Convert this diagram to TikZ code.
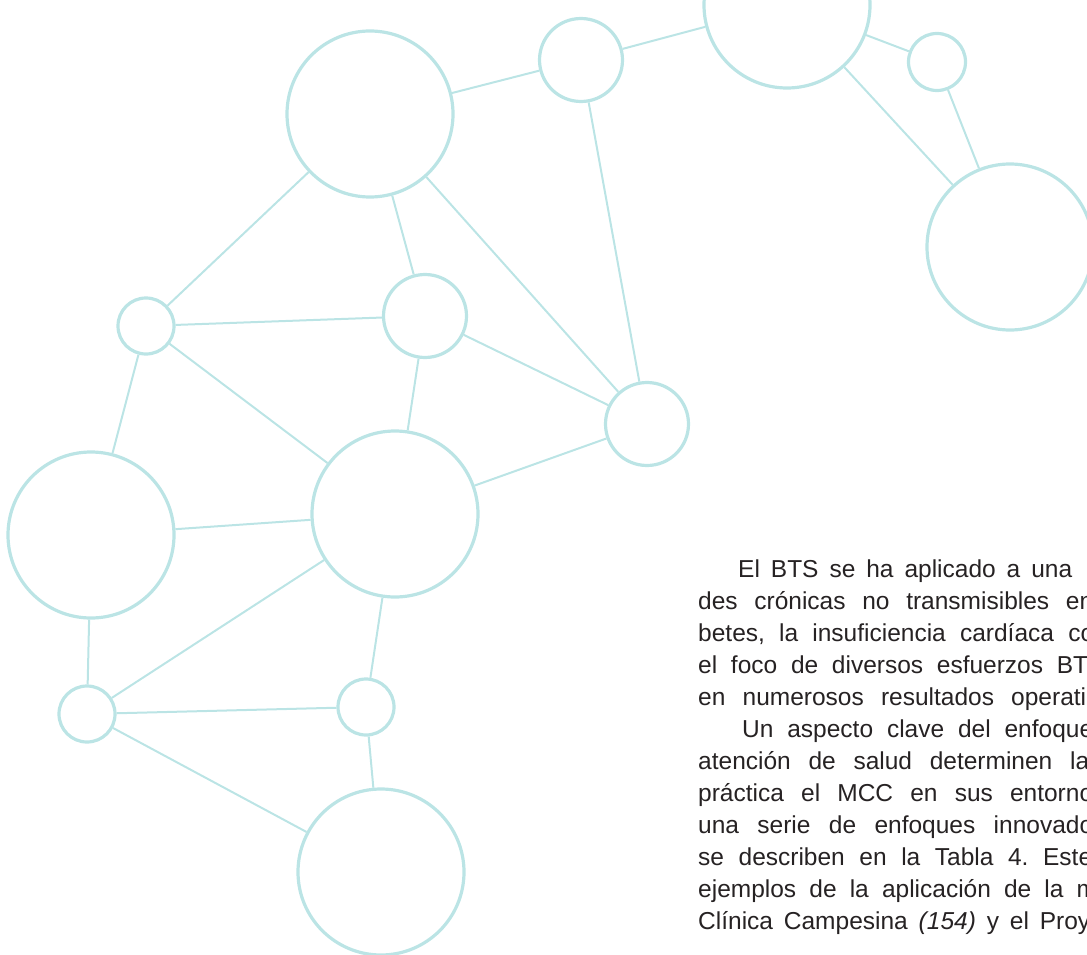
\documentclass[tikz,border=0pt]{standalone}
\usepackage{fontspec}
\setmainfont{Liberation Sans}
\usepackage{tikz}
\definecolor{NetTeal}{RGB}{187,228,229}
\definecolor{BodyGray}{RGB}{38,34,35}
\frenchspacing
\begin{document}
\begin{tikzpicture}[x=1pt, y=-1pt,
    hub/.style={circle, draw=NetTeal, line width=3.2pt, inner sep=0pt},
    link/.style={draw=NetTeal, line width=2pt},
    txtline/.style={anchor=base west, inner sep=0pt, text=BodyGray,
      font=\fontsize{24.5}{32}\selectfont}]
    \useasboundingbox (0,0) rectangle (1087,955);
    \clip (0,0) rectangle (1087,955);

    % network of circles
    \node[hub, minimum size=166] (c1) at (370,114) {};
    \node[hub, minimum size=83]  (c2) at (581,60) {};
    \node[hub, minimum size=166] (c3) at (787,5) {};
    \node[hub, minimum size=57]  (c4) at (937,62) {};
    \node[hub, minimum size=166] (c5) at (1010,247) {};
    \node[hub, minimum size=56]  (c6) at (146,326) {};
    \node[hub, minimum size=83]  (c7) at (425,316) {};
    \node[hub, minimum size=83]  (c8) at (647,424) {};
    \node[hub, minimum size=166] (c9) at (395,514) {};
    \node[hub, minimum size=166] (c10) at (91,535) {};
    \node[hub, minimum size=56]  (c11) at (87,714) {};
    \node[hub, minimum size=56]  (c12) at (366,707) {};
    \node[hub, minimum size=166] (c13) at (381,872) {};

    \foreach \a/\b in {c1/c2, c2/c3, c3/c4, c3/c5, c4/c5, c1/c6, c1/c7, c1/c8,
        c2/c8, c6/c7, c6/c9, c6/c10, c7/c9, c7/c8, c8/c9, c9/c10, c9/c11,
        c9/c12, c10/c11, c11/c12, c11/c13, c12/c13}
      \draw[link] (\a) -- (\b);

    % body text, cut at the right edge
    \foreach \x/\w/\txt [count=\i] in {
        738/334/{El BTS se ha aplicado a una},
        698/395/{des crónicas no transmisibles en},
        698/396/{betes, la insuficiencia cardíaca co},
        698/390/{el foco de diversos esfuerzos BT},
        698/388/{en numerosos resultados operati},
        742/351/{Un aspecto clave del enfoque},
        698/391/{atención de salud determinen la},
        698/395/{práctica el MCC en sus entorno},
        698/395/{una serie de enfoques innovado},
        698/394/{se describen en la Tabla 4. Este},
        698/399/{ejemplos de la aplicación de la m},
        698/392/{Clínica Campesina \textit{(154)} y el Proy}} {
      \node[txtline] (line\i) at (\x,{545+32*\i}) {\makebox[\w pt][s]{\txt}};
    }
\end{tikzpicture}
\end{document}
